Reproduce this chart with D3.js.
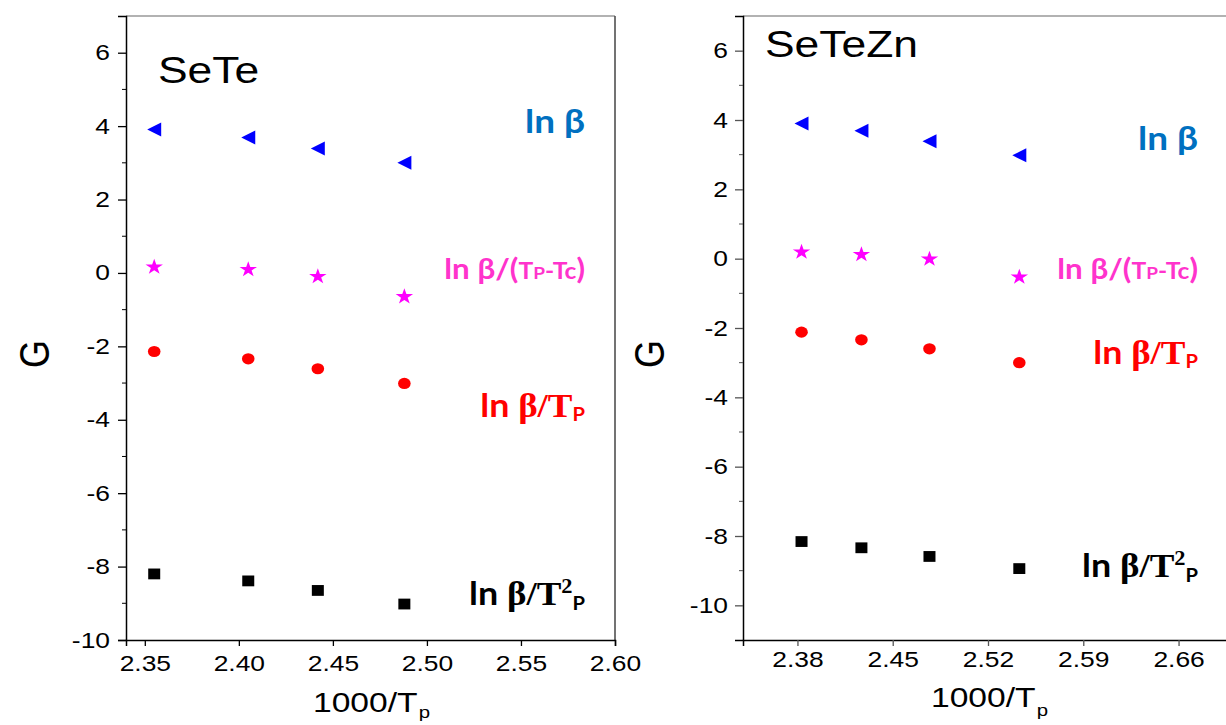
<!DOCTYPE html>
<html>
<head>
<meta charset="utf-8">
<script src="https://cdn.jsdelivr.net/npm/d3@7"></script>
<style>
  body { margin: 0; background: #fff; }
  svg { display: block; }
</style>
</head>
<body>
<div id="chart"></div>
<script>
// data (1000/Tp vs G)
var seteX      = [2.355, 2.405, 2.442, 2.488];
var seteLnB    = [3.91, 3.69, 3.39, 3.00];
var seteLnBTc  = [0.19, 0.12, -0.07, -0.62];
var seteLnBTp  = [-2.14, -2.34, -2.61, -3.01];
var seteLnBTp2 = [-8.20, -8.39, -8.65, -9.02];

var zincX      = [2.383, 2.427, 2.477, 2.543];
var zincLnB    = [3.90, 3.69, 3.39, 2.98];
var zincLnBTc  = [0.22, 0.15, 0.02, -0.50];
var zincLnBTp  = [-2.12, -2.34, -2.60, -3.00];
var zincLnBTp2 = [-8.16, -8.34, -8.59, -8.94];

var yTicks = [-10, -8, -6, -4, -2, 0, 2, 4, 6];
var yMinor = [-9, -7, -5, -3, -1, 1, 3, 5];
var seteXTicks = [2.35, 2.40, 2.45, 2.50, 2.55, 2.60];
var zincXTicks = [2.38, 2.45, 2.52, 2.59, 2.66];

// the source figure is stretched sideways, text gets the same treatment
var sx = 1.2;

var svg = d3.select('#chart').append('svg')
  .attr('width', 1226)
  .attr('height', 725);

var sans = 'Liberation Sans, Arial, sans-serif';
var calib = 'Lato, Open Sans, sans-serif';
var serif = 'Liberation Serif, DejaVu Serif, serif';

// markers
var triPath = 'M-7,0L7,-7L7,7Z';
var starPath = d3.symbol().type(d3.symbolStar).size(78)();

function drawPanel(p) {
  var x = d3.scaleLinear().domain(p.xDomain).range([p.left, p.right]);
  var y = d3.scaleLinear().domain(p.yDomain).range([p.bottom, p.top]);
  var g = svg.append('g');

  // top / right frame in grey
  g.append('line').attr('x1', p.left).attr('x2', p.right).attr('y1', p.top).attr('y2', p.top)
    .attr('stroke', '#666').attr('stroke-width', 1.2);
  g.append('line').attr('x1', p.right).attr('x2', p.right).attr('y1', p.top).attr('y2', p.bottom)
    .attr('stroke', '#444').attr('stroke-width', 1.5);

  // y axis
  var ya = g.append('g').attr('transform', 'translate(' + p.left + ',0)')
    .call(d3.axisLeft(y).tickValues(yTicks).tickSize(8).tickPadding(p.yPad)
      .tickFormat(function(d){ return String(d); }));
  ya.selectAll('.tick line').attr('stroke', p.tickColor).attr('stroke-width', 1.3);
  ya.select('.domain').attr('stroke', '#000').attr('stroke-width', 1.5);
  ya.selectAll('text')
    .attr('font-family', sans).attr('font-size', 22).attr('fill', '#000')
    .attr('x', -(8 + p.yPad) / sx)
    .attr('transform', 'scale(' + sx + ',1)');
  g.selectAll('.yminor').data(yMinor).enter().append('line')
    .attr('x1', p.left - 4).attr('x2', p.left)
    .attr('y1', function(d){ return y(d); }).attr('y2', function(d){ return y(d); })
    .attr('stroke', p.tickColor).attr('stroke-width', 1);

  // x axis
  var xa = g.append('g').attr('transform', 'translate(0,' + p.bottom + ')')
    .call(d3.axisBottom(x).tickValues(p.xTicks).tickSize(6).tickPadding(p.xPad)
      .tickFormat(d3.format('.2f')));
  xa.selectAll('.tick line').attr('stroke', p.tickColor).attr('stroke-width', 1.3);
  xa.select('.domain').attr('stroke', '#000').attr('stroke-width', 1.5);
  xa.selectAll('text')
    .attr('font-family', sans).attr('font-size', 22).attr('fill', '#000')
    .attr('transform', 'scale(' + sx + ',1)');

  // series
  function mark(vals, color, kind) {
    var pts = p.xs.map(function(d, i){ return { x: d, y: vals[i] }; });
    var sel = g.selectAll(null).data(pts).enter();
    if (kind === 'tri') {
      sel.append('path').attr('d', triPath).attr('fill', color)
        .attr('transform', function(d){ return 'translate(' + x(d.x) + ',' + y(d.y) + ')'; });
    } else if (kind === 'star') {
      sel.append('path').attr('d', starPath).attr('fill', color)
        .attr('transform', function(d){ return 'translate(' + x(d.x) + ',' + (y(d.y) + 1) + ') scale(1.1,1)'; });
    } else if (kind === 'circle') {
      sel.append('ellipse').attr('fill', color)
        .attr('cx', function(d){ return x(d.x); }).attr('cy', function(d){ return y(d.y); })
        .attr('rx', 6.3).attr('ry', 5.6);
    } else {
      sel.append('rect').attr('fill', color)
        .attr('x', function(d){ return x(d.x) - 6; }).attr('y', function(d){ return y(d.y) - 5.4; })
        .attr('width', 12).attr('height', 10.8);
    }
  }
  mark(p.lnB, '#0000ff', 'tri');
  mark(p.lnBTc, '#ff00ff', 'star');
  mark(p.lnBTp, '#ff0000', 'circle');
  mark(p.lnBTp2, '#000000', 'square');

  // sample name
  g.append('text').attr('font-family', sans).attr('font-size', 37).attr('fill', '#000')
    .attr('transform', 'translate(' + p.nameX + ',' + p.nameY + ') scale(' + sx + ',1)')
    .text(p.name);

  // G label
  g.append('text').attr('font-family', sans).attr('font-size', 36).attr('fill', '#000')
    .attr('text-anchor', 'middle')
    .attr('transform', 'translate(' + p.gX + ',354) rotate(-90) scale(1,' + sx + ')')
    .text('G');

  // x title
  var xt = g.append('text').attr('font-family', sans).attr('font-size', 28).attr('fill', '#000')
    .attr('transform', 'translate(' + p.titleX + ',' + p.titleY + ') scale(' + sx + ',1)');
  xt.append('tspan').text('1000/T');
  xt.append('tspan').attr('font-size', 17).attr('dy', p.subDy).attr('dx', 1).text('p');

  // series labels, right aligned
  function lab(yPos, color, parts) {
    var t = g.append('text').attr('text-anchor', 'end').attr('fill', color)
      .attr('font-weight', 'bold')
      .attr('transform', 'translate(' + p.labRight + ',' + yPos + ') scale(1.12,1)');
    parts.forEach(function(q) {
      var s = t.append('tspan').attr('font-family', q.f || calib).attr('font-size', q.s)
        .text(q.t);
      if (q.dy) s.attr('dy', q.dy);
    });
  }
  lab(p.labY[0], '#0070c0', [{ t: 'ln β', s: 33 }]);
  lab(p.labY[1], '#ff33cc', [
    { t: 'ln β/(', s: 28 }, { t: 'T', s: 22 }, { t: 'P', s: 17 },
    { t: '-Tc', s: 22 }, { t: ')', s: 28 }]);
  lab(p.labY[2], '#ff0000', [
    { t: 'ln ', s: 32 }, { t: 'β/T', s: 33, f: serif },
    { t: 'P', s: 18, dy: 4 }]);
  lab(p.labY[3], '#000000', [
    { t: 'ln ', s: 32 }, { t: 'β/T', s: 33, f: serif },
    { t: '2', s: 20, f: serif, dy: -12 }, { t: 'P', s: 18, dy: 17 }]);
}

drawPanel({
  left: 126, right: 615, top: 16, bottom: 640,
  xDomain: [2.34, 2.60], yDomain: [-10, 7],
  xTicks: seteXTicks, yPad: 8, xPad: 9, tickColor: '#000',
  xs: seteX, lnB: seteLnB, lnBTc: seteLnBTc, lnBTp: seteLnBTp, lnBTp2: seteLnBTp2,
  name: 'SeTe', nameX: 158, nameY: 83,
  gX: 49, titleX: 313, titleY: 712, subDy: 6,
  labRight: 585, labY: [133, 279, 417, 605]
});

drawPanel({
  left: 743, right: 1233, top: 16, bottom: 640,
  xDomain: [2.34, 2.70], yDomain: [-11, 7],
  xTicks: zincXTicks, yPad: 7, xPad: 5, tickColor: '#555',
  xs: zincX, lnB: zincLnB, lnBTc: zincLnBTc, lnBTp: zincLnBTp, lnBTp2: zincLnBTp2,
  name: 'SeTeZn', nameX: 765, nameY: 57,
  gX: 664, titleX: 931, titleY: 707, subDy: 9,
  labRight: 1198, labY: [150, 279, 364, 577]
});
</script>
</body>
</html>
